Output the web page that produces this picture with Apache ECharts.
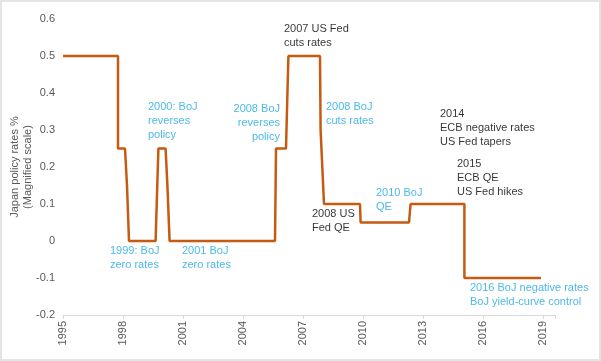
<!DOCTYPE html>
<html><head><meta charset="utf-8">
<script src="https://cdn.jsdelivr.net/npm/echarts@6/dist/echarts.min.js"></script>
<style>
html,body{margin:0;padding:0;background:#fff;}
#c{width:601px;height:361px;box-sizing:border-box;border:2px solid #e4e4e4;}
</style></head>
<body><div id="c"></div>
<script>
// Policy rate path (decimal year, rate %)
const rateYears = [1995.0, 1997.75, 1997.75, 1998.1, 1998.2, 1998.3, 1999.63, 1999.77, 2000.13, 2000.22, 2000.33,
  2005.6, 2005.65, 2006.15, 2006.27, 2007.85, 2007.88, 2007.98, 2008.05, 2009.85, 2009.88, 2012.3, 2012.38,
  2015.07, 2015.07, 2018.9];
const rateValues = [0.5, 0.5, 0.25, 0.25, 0.15, 0, 0, 0.25, 0.25, 0.15, 0,
  0, 0.25, 0.25, 0.5, 0.5, 0.3, 0.3, 0.1, 0.1, 0.05, 0.05, 0.1,
  0.1, -0.1, -0.1];
const yearTicks = [1995, 1998, 2001, 2004, 2007, 2010, 2013, 2016, 2019];
const yTicks = [-0.2, -0.1, 0, 0.1, 0.2, 0.3, 0.4, 0.5, 0.6];

// Annotations: text, anchor year, anchor value, colour kind, alignment
const annoText = [
  "2007 US Fed\ncuts rates",
  "2000: BoJ\nreverses\npolicy",
  "2008 BoJ\nreverses\npolicy",
  "2008 BoJ\ncuts rates",
  "2014\nECB negative rates\nUS Fed tapers",
  "2015\nECB QE\nUS Fed hikes",
  "2010 BoJ\nQE",
  "2008 US\nFed QE",
  "1999: BoJ\nzero rates",
  "2001 BoJ\nzero rates",
  "2016 BoJ negative rates\nBoJ yield-curve control"
];
const annoYear = [2006.05, 1999.25, 2005.85, 2008.15, 2013.85, 2014.7, 2010.65, 2007.45, 1997.35, 2000.95, 2015.35];
const annoValue = [0.593, 0.382, 0.377, 0.380, 0.361, 0.228, 0.150, 0.091, -0.007, -0.007, -0.107];
const annoKind = ["us", "boj", "boj", "boj", "us", "us", "boj", "us", "boj", "boj", "boj"];
const annoAlign = ["left", "left", "right", "left", "left", "left", "left", "left", "left", "left", "left"];

const lineData = rateYears.map((y, i) => [y, rateValues[i]]);
const annoData = annoText.map((t, i) => ({
  value: [annoYear[i], annoValue[i]],
  label: {
    formatter: t,
    color: annoKind[i] === "boj" ? "#1ea8e4" : "#000000",
    align: annoAlign[i]
  }
}));

const FONT = "Liberation Sans, Arial, sans-serif";
const chart = echarts.init(document.getElementById('c'), null, {renderer: 'canvas'});
chart.setOption({
  animation: false,
  grid: {left: 61, right: 44, top: 17, bottom: 44, containLabel: false, outerBoundsMode: 'none'},
  xAxis: [{
    type: 'value', min: 1995, max: 2019.6, interval: 3,
    axisLine: {show: false}, axisTick: {show: false}, splitLine: {show: false},
    axisLabel: {rotate: 90, margin: 6, color: '#595959', fontSize: 11, fontFamily: FONT,
      showMaxLabel: false, formatter: v => yearTicks.includes(v) ? String(v) : ''}
  }, {
    type: 'value', min: 1995, max: 2019.6, interval: 3, position: 'bottom',
    axisLine: {show: true, onZero: true, lineStyle: {color: '#d9d9d9', width: 1}},
    axisTick: {show: true, inside: false, length: 4, lineStyle: {color: '#d9d9d9'}},
    axisLabel: {show: false}, splitLine: {show: false}
  }],
  yAxis: {
    type: 'value', min: yTicks[0], max: yTicks[yTicks.length - 1], interval: 0.1,
    axisLine: {show: false}, axisTick: {show: false}, splitLine: {show: false},
    axisLabel: {margin: 8, color: '#595959', fontSize: 11, fontFamily: FONT,
      formatter: v => String(Math.round(v * 10) / 10)},
    name: 'Japan policy rates %\n(Magnified scale)',
    nameLocation: 'middle', nameGap: 29, nameRotate: 90, nameMoveOverlap: false,
    nameTextStyle: {color: '#595959', fontSize: 11, fontFamily: FONT, lineHeight: 13}
  },
  series: [{
    type: 'line', xAxisIndex: 0, data: lineData, symbol: 'none',
    lineStyle: {color: '#c55a11', width: 2.5}
  }, {
    type: 'scatter', xAxisIndex: 0, data: annoData, symbolSize: 0, silent: true,
    label: {show: true, position: [0, 0], verticalAlign: 'top', fontSize: 11,
      fontFamily: FONT, lineHeight: 14}
  }]
});
</script></body></html>
